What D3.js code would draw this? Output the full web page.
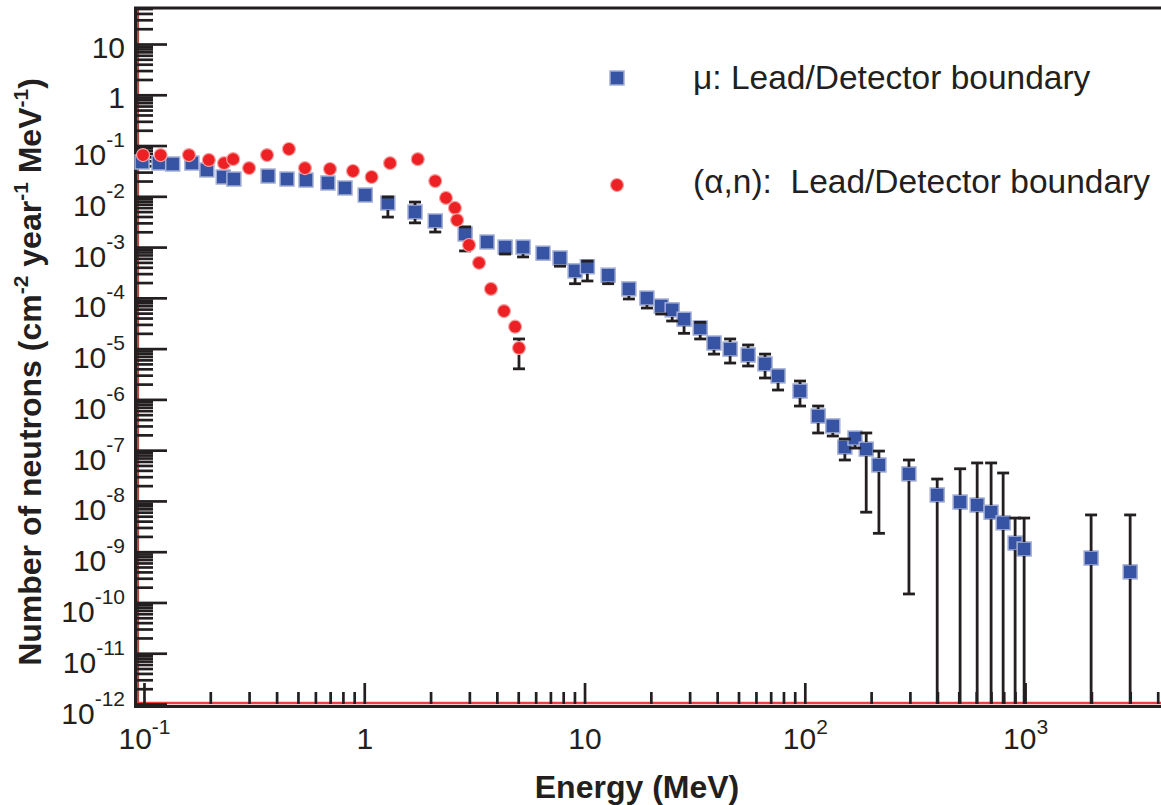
<!DOCTYPE html>
<html>
<head>
<meta charset="utf-8">
<script src="https://cdn.jsdelivr.net/npm/d3@7"></script>
<style>
  body { margin: 0; background: #fff; }
  svg { display: block; font-family: "Liberation Sans", Arial, sans-serif; }
</style>
</head>
<body>
<div id="chart"></div>
<script>
// muon induced neutrons at the lead/detector boundary (blue squares)
const muEnergy = [0.098, 0.117, 0.135, 0.165, 0.193, 0.229, 0.256, 0.366, 0.446, 0.544, 0.684, 0.818,
  1.01, 1.28, 1.70, 2.10, 2.87, 3.61, 4.36, 5.26, 6.48, 7.74, 9.06, 10.3, 12.8, 15.9, 19.2, 22.3,
  25.0, 28.3, 33.5, 38.7, 45.8, 55.3, 66.0, 75.6, 95.1, 115, 134, 152, 169, 190, 217, 297,
  399, 507, 606, 701, 795, 901, 990, 1994, 2999];
const muFlux = [0.0474, 0.0453, 0.0433, 0.0453, 0.033, 0.024, 0.0219, 0.0251, 0.0219, 0.0209, 0.0183, 0.0146,
  0.0106, 0.00738, 0.00491, 0.00327, 0.00181, 0.00126, 0.001, 0.001, 7.6e-4, 6.1e-4, 3.4e-4, 4.1e-4,
  2.8e-4, 1.5e-4, 9.9e-5, 6.9e-5, 5.8e-5, 3.8e-5, 2.55e-5, 1.29e-5, 9.8e-6, 7.5e-6, 5.0e-6, 2.9e-6,
  1.46e-6, 4.7e-7, 3.0e-7, 1.15e-7, 1.73e-7, 1.05e-7, 5.1e-8, 3.4e-8, 1.31e-8, 9.5e-9, 8.3e-9,
  6.0e-9, 3.7e-9, 1.48e-9, 1.13e-9, 7.5e-10, 4.0e-10];
// upper end of the error bar (null = hidden by the marker)
const muErrHigh = [null, null, null, null, null, null, null, null, null, null, null, null,
  null, 0.0097, 0.0077, null, 0.0025, null, null, null, null, null, null, 5.3e-4,
  null, null, null, null, null, null, 3.3e-5, null, 1.55e-5, 1.18e-5, 7.8e-6, null,
  2.3e-6, 7.4e-7, null, 1.66e-7, null, 2.18e-7, 9.6e-8, 6.4e-8, 2.7e-8, 4.3e-8, 5.6e-8,
  5.6e-8, 3.55e-8, 4.6e-9, 4.6e-9, 5.3e-9, 5.3e-9];
// lower end of the error bar (null = hidden, 0 = runs down to the axis)
const muErrLow = [null, null, null, null, null, null, null, null, null, null, null, null,
  null, 0.0039, 0.0030, 0.00198, 8.4e-4, null, 7.3e-4, 6.4e-4, null, 4.2e-4, 1.9e-4, 2.15e-4,
  1.9e-4, 9.5e-5, 6.3e-5, 4.8e-5, 3.5e-5, 2.0e-5, 1.55e-5, 7.8e-6, 5.2e-6, 4.55e-6, 2.64e-6, 1.53e-6,
  7.4e-7, 2.18e-7, 1.9e-7, 6.4e-8, 1.1e-7, 6.0e-9, 2.3e-9, 1.47e-10, 0, 0, 0,
  0, 0, 0, 0, 0, 0];

// (alpha,n) neutrons at the lead/detector boundary (red circles)
const anEnergy = [0.099, 0.119, 0.160, 0.197, 0.231, 0.254, 0.300, 0.362, 0.455, 0.538, 0.699, 0.889,
  1.08, 1.31, 1.75, 2.10, 2.35, 2.58, 2.64, 2.99, 3.32, 3.76, 4.31, 4.84, 5.04];
const anFlux = [0.065, 0.065, 0.065, 0.052, 0.045, 0.054, 0.036, 0.065, 0.0855, 0.036, 0.0345, 0.0315,
  0.024, 0.045, 0.054, 0.020, 0.0093, 0.0059, 0.0034, 0.0011, 4.9e-4, 1.5e-4, 5.5e-5, 2.7e-5, 1.03e-5];
const anErrHigh = [null, null, null, null, null, null, null, null, null, null, null, null,
  null, null, null, null, null, null, null, null, null, null, null, null, 1.55e-5];
const anErrLow = [null, null, null, null, null, null, null, null, null, null, null, null,
  null, null, null, null, null, null, null, null, null, null, null, null, 4.0e-6];

// tick values and labels ([base, exponent])
const xMajorTicks = [0.1, 1, 10, 100, 1000];
const xTickLabels = [["10", "-1"], ["1", ""], ["10", ""], ["10", "2"], ["10", "3"]];
const yMajorTicks = [1e1, 1, 1e-1, 1e-2, 1e-3, 1e-4, 1e-5, 1e-6, 1e-7, 1e-8, 1e-9, 1e-10, 1e-11, 1e-12];
const yTickLabels = [["10", ""], ["1", ""], ["10", "-1"], ["10", "-2"], ["10", "-3"], ["10", "-4"],
  ["10", "-5"], ["10", "-6"], ["10", "-7"], ["10", "-8"], ["10", "-9"], ["10", "-10"], ["10", "-11"], ["10", "-12"]];
const minorSteps = [2, 3, 4, 5, 6, 7, 8, 9];

const legendLabels = ["\u03bc: Lead/Detector boundary", "(\u03b1,n):  Lead/Detector boundary"];

// declaring setup/layout variables
const width = 1161;
const height = 805;
const ink = "#231f20";
const blue = "#3753a4";
const red = "#ed2024";

const svg = d3.select("#chart")
  .append("svg")
  .attr("width", width)
  .attr("height", height);

const x = d3.scaleLog().domain([0.092, 4140]).range([136, 1161]);
const y = d3.scaleLog().domain([1e-12, 51.2]).range([704, 8]);
const yBottom = y(1e-12);

// minor tick positions, 2..9 in each decade inside the domain
const xMinor = [];
[-1, 0, 1, 2, 3].forEach(p => minorSteps.forEach(s => {
  const v = s * Math.pow(10, p);
  if (v < x.domain()[1]) xMinor.push(v);
}));
const yMinor = [];
d3.range(-12, 2).forEach(p => minorSteps.forEach(s => {
  const v = s * Math.pow(10, p);
  if (v < y.domain()[1]) yMinor.push(v);
}));

// red zero-level lines along the bottom and left
svg.append("line")
  .attr("x1", 137).attr("x2", width)
  .attr("y1", yBottom - 1).attr("y2", yBottom - 1)
  .attr("stroke", "#ee3e3e").attr("stroke-width", 2.5);
svg.append("line")
  .attr("x1", 138).attr("x2", 138)
  .attr("y1", 10).attr("y2", yBottom)
  .attr("stroke", "#b34a45").attr("stroke-width", 2.2);

// frame lines
svg.append("line")
  .attr("x1", 134).attr("x2", width).attr("y1", yBottom + 2.5).attr("y2", yBottom + 2.5)
  .attr("stroke", ink).attr("stroke-width", 3);
svg.append("line")
  .attr("x1", 135.5).attr("x2", 135.5).attr("y1", 7).attr("y2", yBottom + 4)
  .attr("stroke", ink).attr("stroke-width", 3);
svg.append("line")
  .attr("x1", 134).attr("x2", width).attr("y1", 8).attr("y2", 8)
  .attr("stroke", ink).attr("stroke-width", 3);

// Y axis: minor and major ticks pointing inward
svg.append("g")
  .attr("transform", "translate(136,0)")
  .call(d3.axisLeft(y).tickValues(yMinor).tickSize(-17).tickFormat(""))
  .call(g => g.select(".domain").remove())
  .call(g => g.selectAll("line").attr("stroke", ink).attr("stroke-width", 2.7));

const yAxis = svg.append("g")
  .attr("transform", "translate(136,0)")
  .call(d3.axisLeft(y).tickValues(yMajorTicks).tickSize(-31).tickPadding(11).tickFormat(""))
  .call(g => g.select(".domain").remove())
  .call(g => g.selectAll("line").attr("stroke", ink).attr("stroke-width", 2.7));

yAxis.selectAll("text").each(function(d, i) {
  const t = d3.select(this)
    .attr("dy", null)
    .attr("y", yTickLabels[i][1] ? 19 : 13)
    .attr("fill", ink)
    .attr("font-family", "Liberation Sans, Arial, sans-serif");
  t.append("tspan").attr("font-size", 30).text(yTickLabels[i][0]);
  if (yTickLabels[i][1]) {
    t.append("tspan").attr("font-size", 21).attr("dy", -18).text(yTickLabels[i][1]);
  }
});

// X axis: minor and major ticks pointing inward
svg.append("g")
  .attr("transform", `translate(0,${yBottom})`)
  .call(d3.axisBottom(x).tickValues(xMinor).tickSize(-12).tickFormat(""))
  .call(g => g.select(".domain").remove())
  .call(g => g.selectAll("line").attr("stroke", ink).attr("stroke-width", 2.7));

const xAxis = svg.append("g")
  .attr("transform", `translate(0,${yBottom})`)
  .call(d3.axisBottom(x).tickValues(xMajorTicks).tickSize(-21).tickFormat(""))
  .call(g => g.select(".domain").remove())
  .call(g => g.selectAll("line").attr("stroke", ink).attr("stroke-width", 2.7));

xAxis.selectAll("text").each(function(d, i) {
  const t = d3.select(this)
    .attr("dy", null)
    .attr("y", 45)
    .attr("fill", ink)
    .attr("font-family", "Liberation Sans, Arial, sans-serif");
  t.append("tspan").attr("font-size", 30).text(xTickLabels[i][0]);
  if (xTickLabels[i][1]) {
    t.append("tspan").attr("font-size", 21).attr("dy", -15).text(xTickLabels[i][1]);
  }
});

// axis titles
svg.append("text")
  .attr("x", 637).attr("y", 798)
  .attr("text-anchor", "middle")
  .attr("font-size", 32).attr("font-weight", "bold")
  .attr("fill", ink)
  .text("Energy (MeV)");

const yTitle = svg.append("text")
  .attr("transform", "translate(41,372) rotate(-90)")
  .attr("text-anchor", "middle")
  .attr("font-size", 32).attr("font-weight", "bold")
  .attr("fill", ink);
[["Number of neutrons (cm", 0], ["-2", -13], [" year", 13], ["-1", -13], [" MeV", 13], ["-1", -13], [")", 13]]
  .forEach(([s, dy], i) => {
    const sp = yTitle.append("tspan").text(s);
    if (i % 2 === 1) sp.attr("font-size", 21);
    if (dy) sp.attr("dy", dy);
  });

// error bars drawn outside the marker, caps on top
function drawErrors(energy, flux, hi, lo, gap) {
  const g = svg.append("g").attr("stroke", ink).attr("stroke-width", 2.8);
  energy.forEach((e, i) => {
    const cx = x(e);
    const cy = y(flux[i]);
    if (hi[i] !== null) {
      const yh = y(hi[i]);
      if (cy - gap > yh) g.append("line").attr("x1", cx).attr("x2", cx).attr("y1", yh).attr("y2", cy - gap);
      g.append("line").attr("x1", cx - 6).attr("x2", cx + 6).attr("y1", yh).attr("y2", yh);
    }
    if (lo[i] !== null) {
      const yl = lo[i] > 0 ? y(lo[i]) : yBottom;
      if (yl > cy + gap) g.append("line").attr("x1", cx).attr("x2", cx).attr("y1", cy + gap).attr("y2", yl);
      if (lo[i] > 0) g.append("line").attr("x1", cx - 6).attr("x2", cx + 6).attr("y1", yl).attr("y2", yl);
    }
  });
}

// blue squares
svg.append("g")
  .selectAll("rect")
  .data(muEnergy)
  .join("rect")
  .attr("x", (d, i) => x(d) - 7)
  .attr("y", (d, i) => y(muFlux[i]) - 7)
  .attr("width", 14).attr("height", 14)
  .attr("fill", blue)
  .attr("stroke", "#a3aed5").attr("stroke-width", 1.5);
drawErrors(muEnergy, muFlux, muErrHigh, muErrLow, 7);

// red circles
svg.append("g")
  .selectAll("circle")
  .data(anEnergy)
  .join("circle")
  .attr("cx", d => x(d))
  .attr("cy", (d, i) => y(anFlux[i]))
  .attr("r", 6.5)
  .attr("fill", red)
  .attr("stroke", "#f5a3a4").attr("stroke-width", 1.2);
drawErrors(anEnergy, anFlux, anErrHigh, anErrLow, 7);

// legend
const legend = svg.append("g");
legend.append("rect")
  .attr("x", 610).attr("y", 71).attr("width", 14).attr("height", 14)
  .attr("fill", blue).attr("stroke", "#a3aed5").attr("stroke-width", 1.5);
legend.append("circle")
  .attr("cx", 617).attr("cy", 185).attr("r", 6.5)
  .attr("fill", red).attr("stroke", "#f5a3a4").attr("stroke-width", 1.2);
legend.selectAll("text")
  .data(legendLabels)
  .join("text")
  .attr("x", 693)
  .attr("y", (d, i) => i === 0 ? 89 : 193)
  .attr("font-size", 33.5)
  .attr("fill", ink)
  .style("white-space", "pre")
  .text(d => d);
</script>
</body>
</html>
